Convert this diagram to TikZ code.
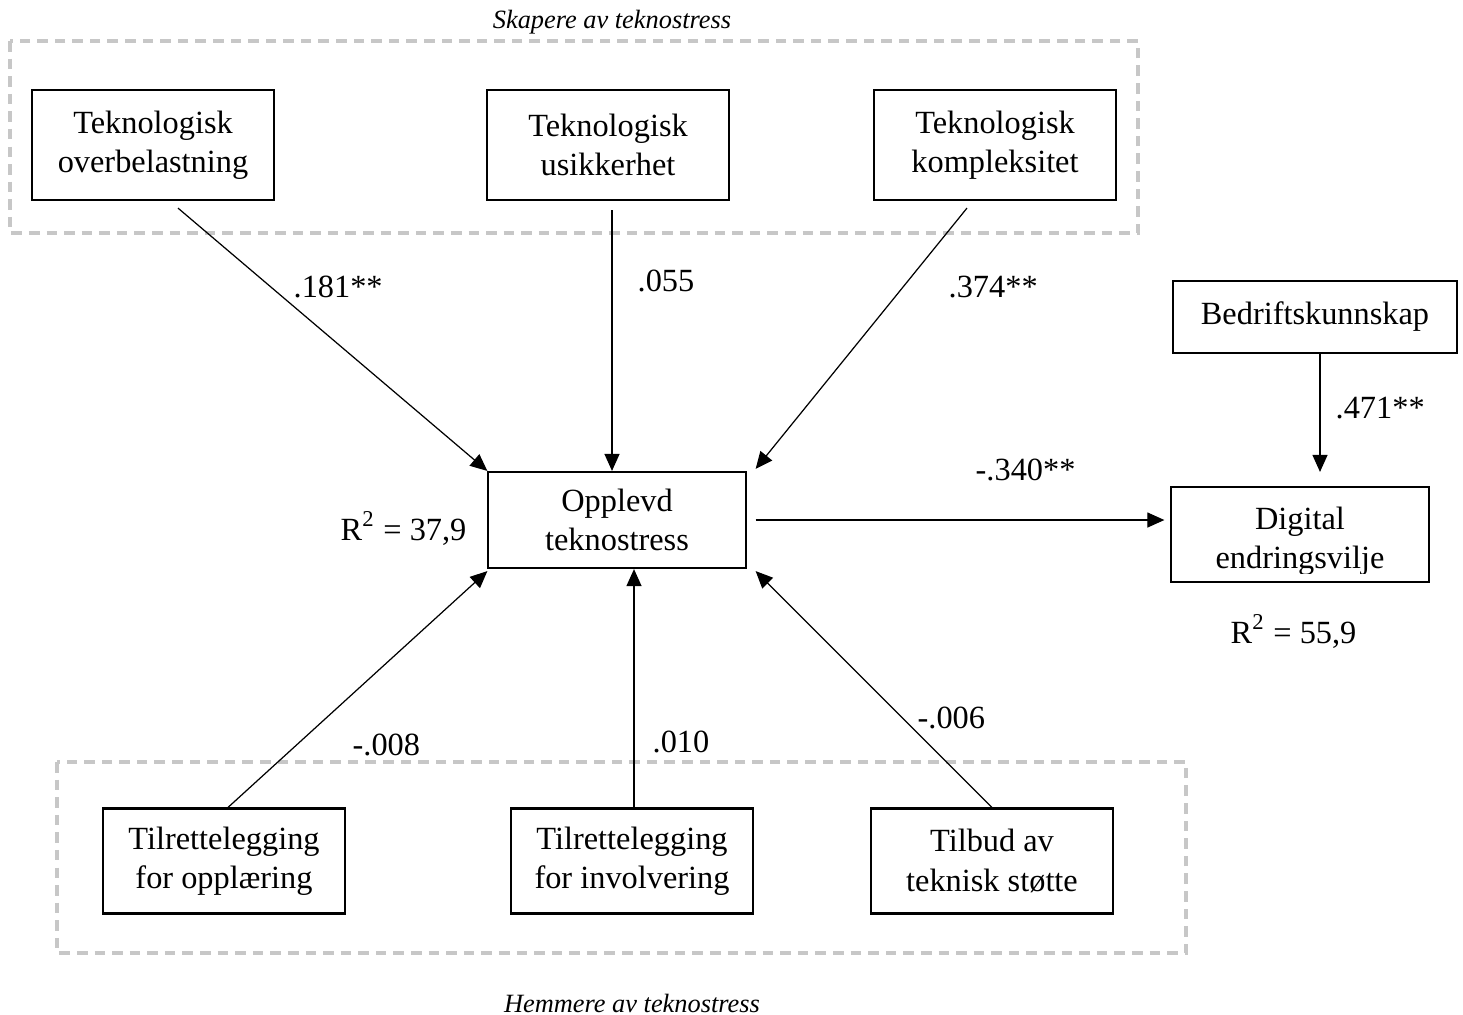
\documentclass[tikz,border=0pt]{standalone}
\usepackage{fontspec}
\setmainfont{Liberation Serif}
\usetikzlibrary{arrows.meta,calc}
\begin{document}
\begin{tikzpicture}[x=0.01cm,y=-0.01cm,
  box/.style={draw,line width=0.6pt,minimum width=2.41cm,minimum height=1.1cm,inner sep=0pt,align=center,font=\fontsize{9.2}{11.2}\selectfont},
  lbl/.style={font=\fontsize{9.2}{11.2}\selectfont,inner sep=0pt},
  grp/.style={draw=black!22,line width=0.9pt,dash pattern=on 3pt off 2pt},
  grpcaption/.style={font=\fontsize{7.5}{9}\selectfont\itshape,inner sep=0pt},
  arr/.style={-{Triangle[length=0.17cm,width=0.15cm]},line width=0.35pt}]
\useasboundingbox (0,0) rectangle (1463,1014);
% groups
\draw[grp] (10,41) rectangle (1138,233);
\draw[grp] (57,762) rectangle (1186,953);
\node[grpcaption] (capA) at (612,22) {Skapere av teknostress};
\node[grpcaption] (capB) at (632,1003) {Hemmere av teknostress};
% boxes
\node[box] (t1) at (153,145) {Teknologisk\\overbelastning};
\node[box] (t2) at (608,145) {Teknologisk\\usikkerhet};
\node[box] (t3) at (995,145) {Teknologisk\\kompleksitet};
\node[box,minimum width=2.83cm,minimum height=0.72cm] (bk) at (1315,317) {Bedriftskunnskap};
\node[box,minimum width=2.57cm,minimum height=0.96cm] (op) at (617,520) {Opplevd\\teknostress};
\node[box,minimum width=2.57cm,minimum height=0.95cm] (dg) at (1300,534.5) {};
\begin{scope}
  \clip ([yshift=0.1cm]dg.south west) rectangle (dg.north east);
  \node[lbl,align=center] (dgtext) at ([yshift=-0.07cm]dg.center) {Digital\\endringsvilje};
\end{scope}
\node[box,minimum height=1.05cm] (b1) at (224,861) {Tilrettelegging\\for opplæring};
\node[box,minimum height=1.05cm] (b2) at (632,861) {Tilrettelegging\\for involvering};
\node[box,minimum height=1.05cm] (b3) at (992,861) {Tilbud av\\teknisk støtte};
% arrows
\draw[arr] ([xshift=0.25cm,yshift=-0.07cm]t1.south) -- (op.north west);
\draw[arr] ([xshift=0.04cm,yshift=-0.09cm]t2.south) coordinate (t2s) -- (t2s |- op.north);
\draw[arr] ([xshift=-0.28cm,yshift=-0.07cm]t3.south) -- ([xshift=0.09cm,yshift=0.02cm]op.north east);
\draw[arr,shorten >=0.06cm] ([xshift=0.09cm]op.east) coordinate (ope) -- (ope -| dg.west);
\draw[arr,shorten >=0.14cm] ([xshift=0.05cm]bk.south) coordinate (bks) -- (bks |- dg.north);
\draw[arr] ([xshift=0.04cm]b1.north) -- ([yshift=-0.02cm]op.south west);
\draw[arr] ([xshift=0.02cm]b2.north) coordinate (b2n) -- (b2n |- op.south);
\draw[arr] (b3.north) -- ([xshift=0.09cm,yshift=-0.02cm]op.south east);
% labels
\node[lbl,anchor=west] (l1) at (293,287) {.181**};
\node[lbl,anchor=west] (l2) at (637,281) {.055};
\node[lbl,anchor=west] (l3) at (948,287) {.374**};
\node[lbl,anchor=west] (l4) at (1335,408) {.471**};
\node[lbl,anchor=west] (l5) at (975,470) {-.340**};
\node[lbl,anchor=west] (l6) at (352,745) {-.008};
\node[lbl,anchor=west] (l7) at (652,742) {.010};
\node[lbl,anchor=west] (l8) at (917,718) {-.006};
\node[lbl,anchor=base west] (r1) at (340,540) {R\textsuperscript{2} = 37,9};
\node[lbl,anchor=base west] (r2) at (1230,643) {R\textsuperscript{2} = 55,9};
\end{tikzpicture}
\end{document}
